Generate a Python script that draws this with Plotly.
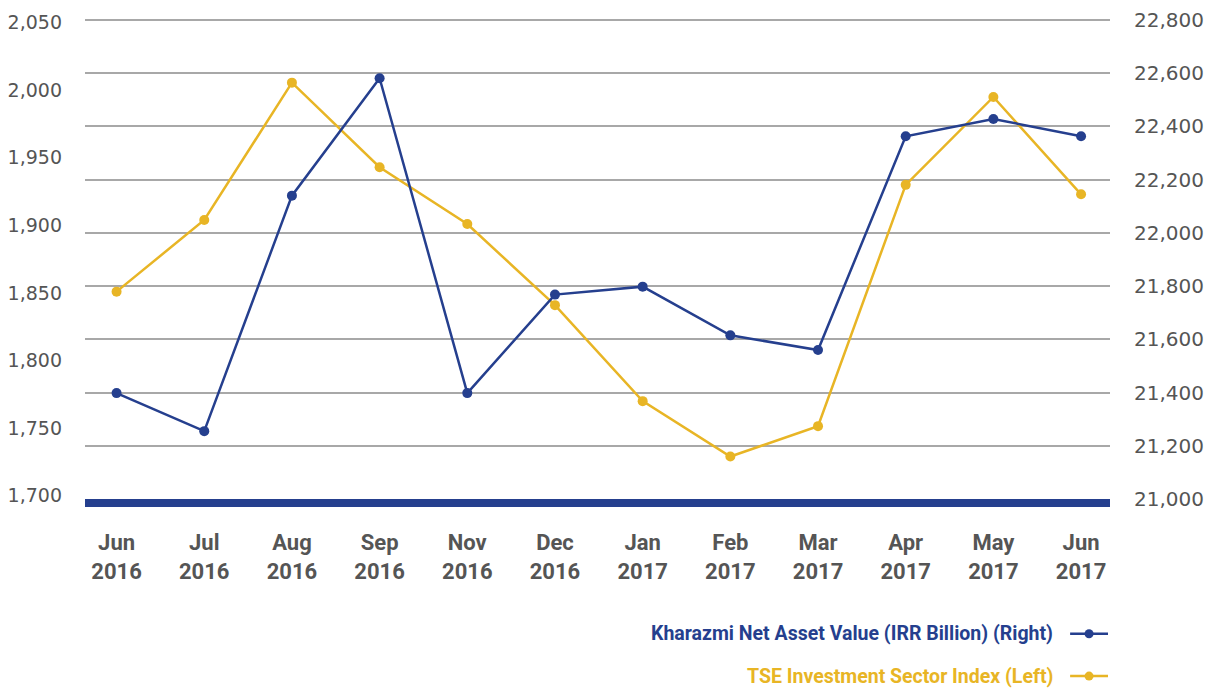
import plotly.graph_objects as go

months = ["Jun<br>2016", "Jul<br>2016", "Aug<br>2016", "Sep<br>2016", "Nov<br>2016", "Dec<br>2016",
          "Jan<br>2017", "Feb<br>2017", "Mar<br>2017", "Apr<br>2017", "May<br>2017", "Jun<br>2017"]
kharazmi_nav = [21398, 21255, 22140, 22581, 21398, 21768, 21798, 21615, 21560, 22363, 22428, 22363]
tse_index = [1851, 1904, 2005.6, 1943, 1901, 1841, 1770, 1729, 1751.5, 1930, 1995, 1923]

left_range = [1697.6, 2054.9]
right_range = [21000, 22815]

name_nav = "Kharazmi Net Asset Value (IRR Billion) (Right)"
name_tse = "TSE Investment Sector Index (Left)"

BLUE = "#253F8E"
YELLOW = "#E8B525"
GREY = "#555555"

W, H = 1217, 690
ML, MR, MT, MB = 82, 107, 8, 191
PW, PH = W - ML - MR, H - MT - MB

fig = go.Figure()
fig.add_trace(go.Scatter(x=months, y=tse_index, name=name_tse, mode="lines+markers",
                         line=dict(color=YELLOW, width=2.5), marker=dict(size=10, color=YELLOW),
                         yaxis="y"))
fig.add_trace(go.Scatter(x=months, y=kharazmi_nav, name=name_nav, mode="lines+markers",
                         line=dict(color=BLUE, width=2.5), marker=dict(size=10, color=BLUE),
                         yaxis="y2"))

fig.update_layout(
    width=W, height=H,
    margin=dict(l=ML, r=MR, t=MT, b=MB),
    paper_bgcolor="white", plot_bgcolor="white",
    showlegend=False,
    font=dict(family="Roboto", color=GREY),
    xaxis=dict(type="category", range=[-0.36, 11.33], showgrid=False, zeroline=False,
               showline=True, linecolor=BLUE, linewidth=8,
               tickfont=dict(size=22, family="Roboto", weight="bold", color=GREY),
               ticks="", ticklabelstandoff=17),
    yaxis=dict(range=left_range, dtick=50, tick0=1700, tickformat=",", showgrid=False, zeroline=False,
               tickfont=dict(size=19, family="DejaVu Sans", color=GREY), ticks="",
               ticklabelstandoff=22, ticklabeloverflow="allow"),
    yaxis2=dict(range=right_range, dtick=200, tick0=21000, tickformat=",", overlaying="y", side="right",
                showgrid=True, gridcolor="#A8A8A8", gridwidth=1.5, zeroline=False,
                tickfont=dict(size=20, family="DejaVu Sans", color=GREY), ticks="",
                ticklabelstandoff=23, ticklabeloverflow="allow"),
)


def px_x(xabs):
    return (xabs - ML) / PW


def px_y(yabs):
    return (H - MB - yabs) / PH


# Legend drawn manually (text on left, symbol on right)
legend_items = [(name_nav, BLUE, 636), (name_tse, YELLOW, 679)]
for text, color, ypix in legend_items:
    yp = px_y(ypix)
    fig.add_annotation(xref="paper", yref="paper", x=px_x(1055), y=yp,
                       text=text, showarrow=False, xanchor="right", yanchor="middle",
                       font=dict(size=19.5, color=color, family="Roboto", weight="bold"))
    fig.add_shape(type="line", xref="paper", yref="paper", x0=px_x(1070), x1=px_x(1108),
                  y0=yp, y1=yp, line=dict(color=color, width=2.5))
    fig.add_shape(type="circle", xref="paper", yref="paper", xsizemode="pixel", ysizemode="pixel",
                  xanchor=px_x(1089), yanchor=yp, x0=-4.5, x1=4.5, y0=-4.5, y1=4.5,
                  fillcolor=color, line=dict(color=color, width=0))

fig.write_html("out.html", config={"displayModeBar": False},
               post_script="document.body.style.margin='0';document.body.style.overflow='hidden';")
